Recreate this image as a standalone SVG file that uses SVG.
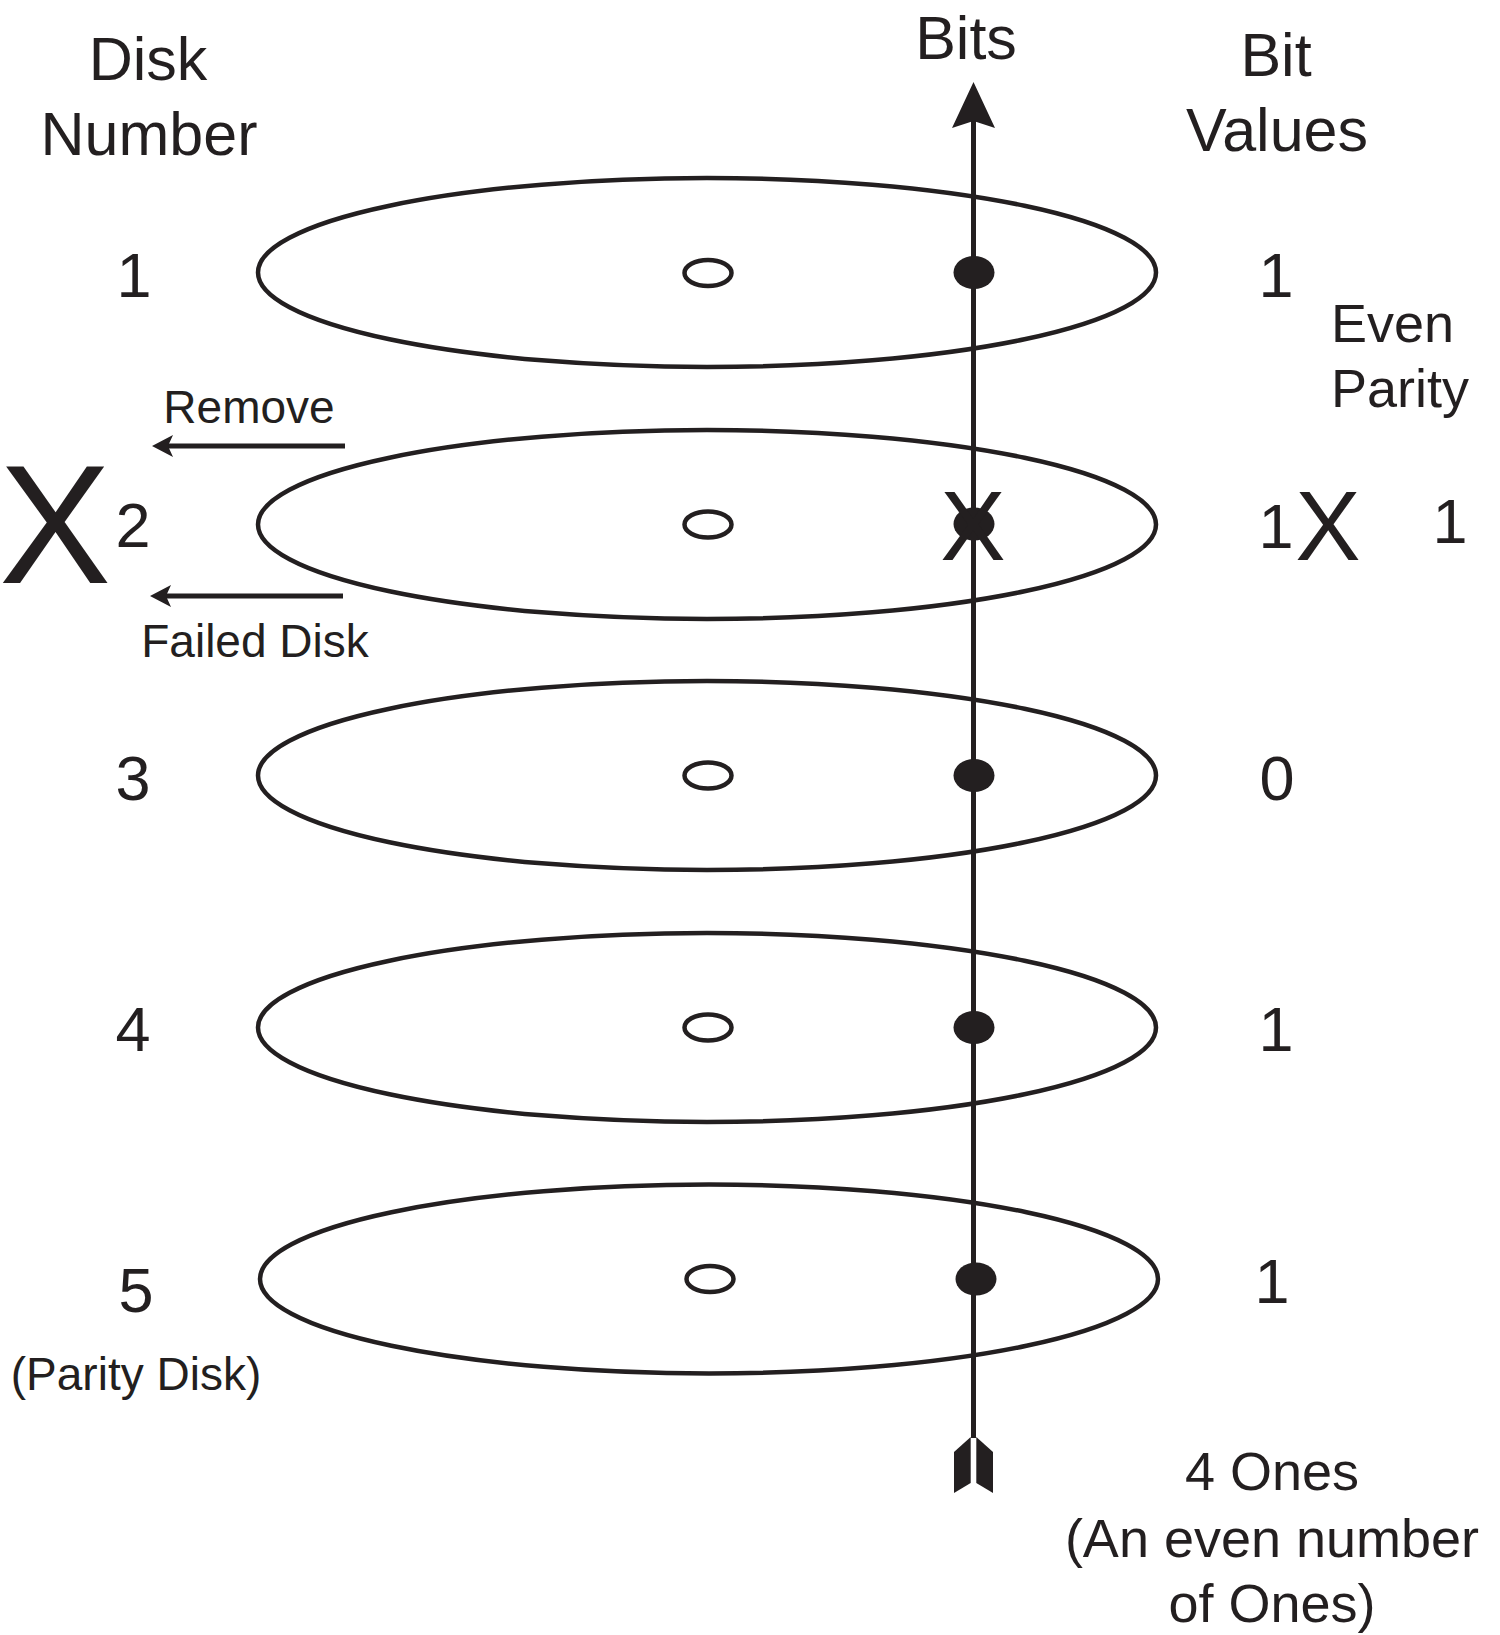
<svg xmlns="http://www.w3.org/2000/svg" width="1500" height="1635" viewBox="0 0 1500 1635">
<style>
  .disk{fill:none;stroke:#231f20;stroke-width:4.5}
  .hole{fill:none;stroke:#231f20;stroke-width:4.5}
  .dot{fill:#231f20}
  .ln{stroke:#231f20;stroke-width:5;fill:none}
  .head{fill:#231f20}
  text{font-family:"Liberation Sans",Arial,Helvetica,sans-serif;fill:#231f20}
  .big{font-size:61px;text-anchor:middle}
  .num{font-size:63px;text-anchor:middle}
  .sm{font-size:46px;text-anchor:middle}
  .par{font-size:54px}
  .ones{font-size:54px;text-anchor:middle}
  .xm{font-size:98px;text-anchor:middle}
</style>
<rect width="1500" height="1635" fill="#fff"/>

<g id="headers">
  <text class="big" x="148" y="80">Disk</text>
  <text class="big" x="149" y="155">Number</text>
  <text class="big" x="966" y="59">Bits</text>
  <text class="big" x="1276" y="76">Bit</text>
  <text class="big" x="1277" y="151">Values</text>
</g>

<g id="disk1">
  <ellipse class="disk" cx="707" cy="272.5" rx="449" ry="94.5"/>
  <ellipse class="hole" cx="708" cy="273" rx="23.5" ry="13"/>
  <text class="num" x="134" y="296.5">1</text>
  <text class="num" x="1276" y="296.5">1</text>
</g>

<g id="disk2">
  <ellipse class="disk" cx="707" cy="524.5" rx="449" ry="94.5"/>
  <ellipse class="hole" cx="708" cy="524.5" rx="23.5" ry="13"/>
  <text x="55" y="583" style="font-size:168px;text-anchor:middle">X</text>
  <text class="num" x="133" y="547">2</text>
  <text class="num" x="1276" y="548">1</text>
  <text class="xm" x="1328" y="560">X</text>
  <text class="num" x="1450" y="543">1</text>
</g>

<g id="disk3">
  <ellipse class="disk" cx="707" cy="775.5" rx="449" ry="94.5"/>
  <ellipse class="hole" cx="708" cy="775.5" rx="23.5" ry="13"/>
  <text class="num" x="133" y="799.5">3</text>
  <text class="num" x="1277" y="799.5">0</text>
</g>

<g id="disk4">
  <ellipse class="disk" cx="707" cy="1027.5" rx="449" ry="94.5"/>
  <ellipse class="hole" cx="708" cy="1027.5" rx="23.5" ry="13"/>
  <text class="num" x="133" y="1051">4</text>
  <text class="num" x="1276" y="1051">1</text>
</g>

<g id="disk5">
  <ellipse class="disk" cx="709" cy="1279" rx="449" ry="94.5"/>
  <ellipse class="hole" cx="710" cy="1279" rx="23.5" ry="13"/>
  <text class="num" x="136" y="1311.5">5</text>
  <text class="sm" x="136" y="1390">(Parity Disk)</text>
  <text class="num" x="1272" y="1303">1</text>
</g>

<g id="labels">
  <text class="par" x="1331" y="341.5">Even</text>
  <text class="par" x="1331" y="406.5">Parity</text>
  <text class="sm" x="249" y="423">Remove</text>
  <text class="sm" x="255" y="656.5">Failed Disk</text>
  <text class="ones" x="1272" y="1490">4 Ones</text>
  <text class="ones" x="1272" y="1556.5">(An even number</text>
  <text class="ones" x="1272" y="1621.5">of Ones)</text>
</g>

<g id="connectors">
  <line class="ln" x1="973.5" y1="118" x2="973.5" y2="1438"/>
  <path class="head" d="M973.5,82 L995,128 L973.5,121 L952,128 Z"/>
  <path class="head" d="M954,1452 L970.7,1437 L970.7,1483 L954,1493 Z"/>
  <path class="head" d="M976.3,1437 L993,1452 L993,1493 L976.3,1483 Z"/>
  <line class="ln" x1="345" y1="446" x2="165" y2="446"/>
  <path class="head" d="M152,446 L173,435 L168,446 L173,457 Z"/>
  <line class="ln" x1="343" y1="596" x2="163" y2="596"/>
  <path class="head" d="M150,596 L171,585 L166,596 L171,607 Z"/>
</g>

<g id="bits">
  <ellipse class="dot" cx="974" cy="272.5" rx="20.5" ry="16.5"/>
  <ellipse class="dot" cx="974" cy="524" rx="20.5" ry="16.5"/>
  <text class="xm" x="973" y="560">X</text>
  <ellipse class="dot" cx="974" cy="775.5" rx="20.5" ry="16.5"/>
  <ellipse class="dot" cx="974" cy="1027.5" rx="20.5" ry="16.5"/>
  <ellipse class="dot" cx="976" cy="1279" rx="20.5" ry="16.5"/>
</g>
</svg>
